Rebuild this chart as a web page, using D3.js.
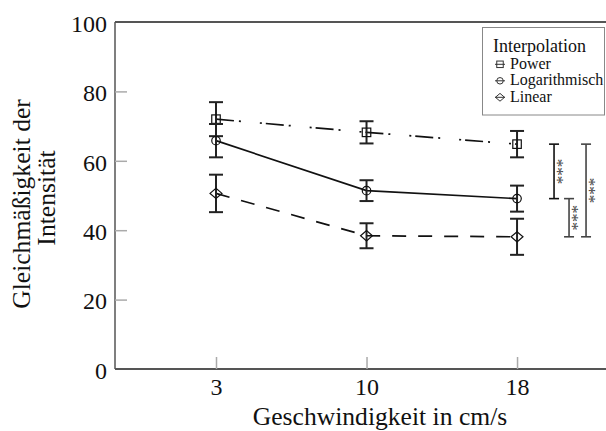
<!DOCTYPE html>
<html><head><meta charset="utf-8">
<script src="https://cdn.jsdelivr.net/npm/d3@7"></script>
<style>body{margin:0;background:#fff}svg{display:block}</style>
</head><body>
<script>
const categories = ["3", "10", "18"];
const yTicks = [0, 20, 40, 60, 80, 100];
const powerMean = [72.0, 68.2, 64.8];
const powerErr  = [4.9, 3.2, 3.8];
const logMean   = [65.8, 51.4, 49.1];
const logErr    = [4.8, 3.0, 3.75];
const linMean   = [50.6, 38.4, 38.1];
const linErr    = [5.4, 3.6, 5.2];
const seriesNames = ["Power", "Logarithmisch", "Linear"];
const legendTitle = "Interpolation";
const xTitle = "Geschwindigkeit in cm/s";
const yTitleLines = ["Gleichmäßigkeit der", "Intensität"];
const sigLabel = "***";

const W = 606, H = 431;
const font = "Liberation Serif";
const svg = d3.select("body").append("svg").attr("width", W).attr("height", H);

const x = d3.scaleLinear().domain([-0.671, 2.591]).range([115, 606]);
const y = d3.scaleLinear().domain([0, 100]).range([369, 22]);

// frame
svg.append("line").attr("x1", 115).attr("x2", W).attr("y1", y(100)).attr("y2", y(100)).attr("stroke", "#555").attr("stroke-width", 2);
svg.append("line").attr("x1", 115).attr("x2", W).attr("y1", y(0)).attr("y2", y(0)).attr("stroke", "#555").attr("stroke-width", 2);
svg.append("line").attr("x1", 115).attr("x2", 115).attr("y1", y(100)).attr("y2", y(0)).attr("stroke", "#555").attr("stroke-width", 1.5);

// y ticks
const yAxis = svg.append("g").attr("transform", "translate(115,0)")
  .call(d3.axisLeft(y).tickValues(yTicks).tickSize(-12).tickPadding(8).tickFormat(d3.format("d")));
yAxis.select(".domain").remove();
yAxis.selectAll(".tick line").attr("stroke", "#aaa").attr("stroke-width", 1.5)
  .attr("display", d => (d === 0 || d === 100) ? "none" : null);
yAxis.selectAll(".tick text").style("font-family", font).attr("font-size", 24).attr("fill", "#111").attr("dy", "0.39em");

// x ticks
const xAxis = svg.append("g").attr("transform", `translate(0,${y(0)})`)
  .call(d3.axisBottom(x).tickValues([0, 1, 2]).tickSize(-12).tickFormat(i => categories[i]));
xAxis.select(".domain").remove();
xAxis.selectAll(".tick line").attr("stroke", "#aaa").attr("stroke-width", 1.5);
xAxis.selectAll(".tick text").style("font-family", font).attr("font-size", 24).attr("fill", "#111")
  .attr("y", 26).attr("dy", 0);

// axis titles
svg.append("text").attr("x", 380).attr("y", 425).attr("text-anchor", "middle")
  .style("font-family", font).attr("font-size", 25.6).attr("fill", "#111").text(xTitle);
const yt = svg.append("text").attr("transform", "rotate(-90)").attr("text-anchor", "middle")
  .style("font-family", font).attr("font-size", 25.6).attr("fill", "#111");
yt.append("tspan").attr("x", -204).attr("y", 30).text(yTitleLines[0]);
yt.append("tspan").attr("x", -198).attr("y", 55).text(yTitleLines[1]);

const series = [
  {mean: powerMean, err: powerErr, dash: "18,5,2,19,2,4", shape: "square"},
  {mean: logMean, err: logErr, dash: null, shape: "circle"},
  {mean: linMean, err: linErr, dash: "14,12", shape: "diamond"}
];

function drawMarker(g, shape, cx, cy, s) {
  if (shape === "square") g.append("rect").attr("x", cx - s/2).attr("y", cy - s/2).attr("width", s).attr("height", s);
  else if (shape === "circle") g.append("circle").attr("cx", cx).attr("cy", cy).attr("r", s/2);
  else g.append("path").attr("d", `M${cx - s*0.7},${cy}L${cx},${cy - s*0.6}L${cx + s*0.7},${cy}L${cx},${cy + s*0.6}Z`);
}

const line = d3.line().x((d, i) => x(i)).y(d => y(d));
series.forEach(s => {
  svg.append("path").attr("d", line(s.mean)).attr("fill", "none").attr("stroke", "#111")
    .attr("stroke-width", 1.7).attr("stroke-dasharray", s.dash);
  s.mean.forEach((m, i) => {
    const cx = x(i);
    const g = svg.append("g").attr("stroke", "#222").attr("stroke-width", 2).attr("fill", "none");
    g.append("line").attr("x1", cx).attr("x2", cx).attr("y1", y(m + s.err[i])).attr("y2", y(m - s.err[i]));
    g.append("line").attr("x1", cx - 7).attr("x2", cx + 7).attr("y1", y(m + s.err[i])).attr("y2", y(m + s.err[i]));
    g.append("line").attr("x1", cx - 7).attr("x2", cx + 7).attr("y1", y(m - s.err[i])).attr("y2", y(m - s.err[i]));
    const mg = svg.append("g").attr("stroke", "#111").attr("stroke-width", 1.2).attr("fill", "none");
    drawMarker(mg, s.shape, cx, y(m), 8.5);
  });
});

// significance brackets (between series at last category)
const last = categories.length - 1;
const brackets = [
  {a: powerMean[last], b: logMean[last], dx: 37, color: "#111"},
  {a: logMean[last], b: linMean[last], dx: 52, color: "#444"},
  {a: powerMean[last], b: linMean[last], dx: 69, color: "#444"}
];
brackets.forEach(b => {
  const bx = x(last) + b.dx;
  const g = svg.append("g").attr("stroke", b.color).attr("stroke-width", 1.6);
  g.append("line").attr("x1", bx).attr("x2", bx).attr("y1", y(b.a)).attr("y2", y(b.b));
  g.append("line").attr("x1", bx - 5).attr("x2", bx + 5).attr("y1", y(b.a)).attr("y2", y(b.a));
  g.append("line").attr("x1", bx - 5).attr("x2", bx + 5).attr("y1", y(b.b)).attr("y2", y(b.b));
  const my = (y(b.a) + y(b.b)) / 2;
  svg.append("text").attr("transform", `translate(${bx - 2},${my}) rotate(90)`).attr("text-anchor", "middle")
    .style("font-family", font).attr("font-size", 17).attr("fill", "#444").text(sigLabel);
});

// legend
const lg = svg.append("g");
lg.append("rect").attr("x", 482.5).attr("y", 27.5).attr("width", 122).attr("height", 87.5)
  .attr("fill", "#fff").attr("stroke", "#888").attr("stroke-width", 1);
lg.append("text").attr("x", 493).attr("y", 51.5).style("font-family", font).attr("font-size", 18).attr("fill", "#111").text(legendTitle);
seriesNames.forEach((n, i) => {
  const ly = 64.3 + i * 16.5;
  const g = lg.append("g").attr("stroke", "#333").attr("stroke-width", 1).attr("fill", "none");
  g.append("line").attr("x1", 495).attr("x2", 505).attr("y1", ly).attr("y2", ly);
  drawMarker(g, series[i].shape, 500, ly, 6.5);
  lg.append("text").attr("x", 510).attr("y", ly + 4.5).style("font-family", font).attr("font-size", 16).attr("fill", "#111").text(n);
});
</script>
</body></html>
